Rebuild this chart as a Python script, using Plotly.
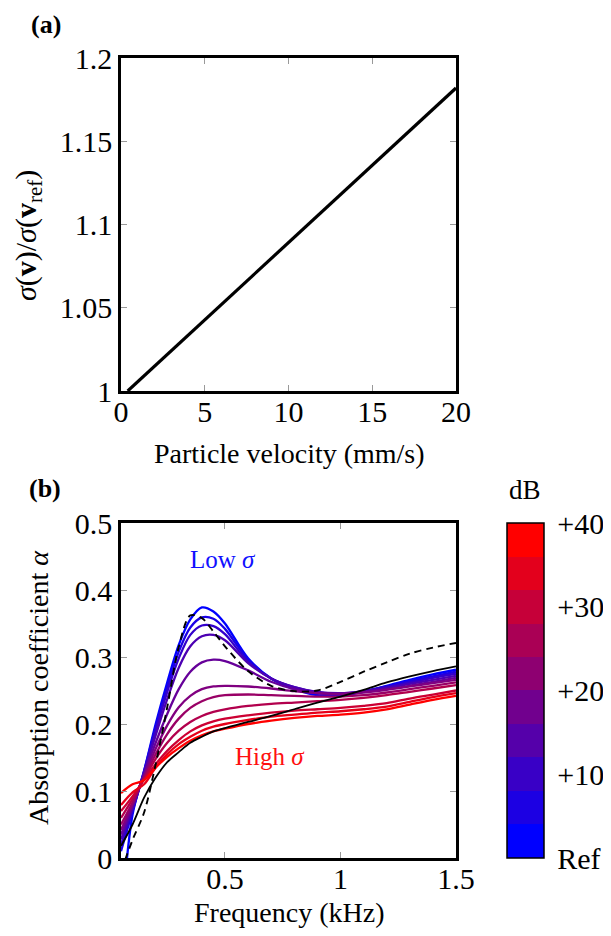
import plotly.graph_objects as go

# ---------------- data: panel (a) ----------------
VELOCITY_MM_S = [0.4, 20.0]
SIGMA_RATIO = [1.0, 1.182]

# ---------------- data: panel (b) ----------------
FREQ_KHZ = [0.05, 0.1, 0.15, 0.2, 0.25, 0.3, 0.35, 0.4, 0.45, 0.5,
            0.6, 0.7, 0.8, 0.9, 1.0, 1.1, 1.2, 1.3, 1.4, 1.5]

ALPHA_REF = [-0.10, 0.065, 0.130, 0.200, 0.262, 0.318, 0.356, 0.374, 0.368, 0.350,
             0.298, 0.268, 0.252, 0.243, 0.242, 0.248, 0.257, 0.266, 0.274, 0.281]
ALPHA_P04 = [0.010, 0.070, 0.130, 0.195, 0.255, 0.308, 0.344, 0.359, 0.357, 0.342,
             0.296, 0.268, 0.254, 0.246, 0.244, 0.249, 0.256, 0.264, 0.271, 0.278]
ALPHA_P08 = [0.020, 0.072, 0.128, 0.190, 0.248, 0.298, 0.333, 0.347, 0.346, 0.334,
             0.293, 0.268, 0.255, 0.247, 0.245, 0.249, 0.255, 0.262, 0.269, 0.275]
ALPHA_P12 = [0.028, 0.075, 0.127, 0.183, 0.237, 0.284, 0.316, 0.331, 0.333, 0.325,
             0.291, 0.268, 0.255, 0.248, 0.246, 0.249, 0.254, 0.260, 0.266, 0.272]
ALPHA_P16 = [0.035, 0.078, 0.125, 0.172, 0.215, 0.252, 0.278, 0.292, 0.296, 0.294,
             0.280, 0.263, 0.252, 0.246, 0.245, 0.248, 0.252, 0.257, 0.263, 0.269]
ALPHA_P20 = [0.042, 0.080, 0.122, 0.163, 0.198, 0.225, 0.242, 0.252, 0.256, 0.257,
             0.256, 0.253, 0.249, 0.246, 0.245, 0.247, 0.251, 0.256, 0.261, 0.266]
ALPHA_P24 = [0.050, 0.083, 0.120, 0.155, 0.185, 0.208, 0.224, 0.234, 0.240, 0.243,
             0.244, 0.243, 0.242, 0.241, 0.241, 0.243, 0.247, 0.252, 0.257, 0.262]
ALPHA_P28 = [0.060, 0.088, 0.118, 0.148, 0.172, 0.190, 0.203, 0.212, 0.218, 0.222,
             0.227, 0.230, 0.232, 0.234, 0.236, 0.239, 0.243, 0.248, 0.253, 0.258]
ALPHA_P32 = [0.070, 0.092, 0.117, 0.140, 0.160, 0.176, 0.189, 0.198, 0.204, 0.208,
             0.213, 0.217, 0.220, 0.222, 0.224, 0.227, 0.231, 0.238, 0.244, 0.250]
ALPHA_P36 = [0.079, 0.098, 0.110, 0.135, 0.155, 0.170, 0.181, 0.190, 0.196, 0.200,
             0.206, 0.211, 0.214, 0.217, 0.219, 0.222, 0.226, 0.233, 0.240, 0.246]
ALPHA_P40 = [0.097, 0.110, 0.116, 0.135, 0.151, 0.164, 0.175, 0.183, 0.189, 0.193,
             0.200, 0.205, 0.209, 0.212, 0.214, 0.217, 0.222, 0.229, 0.236, 0.242]

ALPHA_MODEL_SOLID = [0.018, 0.050, 0.090, 0.120, 0.143, 0.158, 0.172, 0.181, 0.189, 0.194,
                     0.203, 0.212, 0.222, 0.232, 0.241, 0.251, 0.262, 0.271, 0.279, 0.286]
ALPHA_MODEL_DASHED = [-0.020, 0.027, 0.068, 0.140, 0.225, 0.315, 0.362, 0.358, 0.338, 0.316,
                      0.279, 0.257, 0.249, 0.250, 0.263, 0.278, 0.292, 0.305, 0.314, 0.321]

DB_LEVELS = [0, 4, 8, 12, 16, 20, 24, 28, 32, 36, 40]
CBAR_TICK_DB = [0, 10, 20, 30, 40]
CBAR_TICK_TEXT = ["Ref", "+10", "+20", "+30", "+40"]

CURVES = [ALPHA_REF, ALPHA_P04, ALPHA_P08, ALPHA_P12, ALPHA_P16, ALPHA_P20,
          ALPHA_P24, ALPHA_P28, ALPHA_P32, ALPHA_P36, ALPHA_P40]

FONT = "Liberation Serif, DejaVu Serif, serif"
FS_TICK = 30
FS_TITLE = 28

# the page body adds an 8 px margin; lay the figure out in screen pixels minus that
OFF = 8
W, H = 611 - OFF, 936 - OFF

# screen-pixel layout of the panels
PX_L, PX_R = 121, 456
A_TOP, A_BOT = 58, 391
B_TOP, B_BOT = 523, 858
CB_L, CB_W = 507, 37


def fx(px):
    return (px - OFF) / W


def fy(py):
    return 1 - (py - OFF) / H


def blue_red(f):
    return "rgb(%d,0,%d)" % (round(255 * f), round(255 * (1 - f)))


fig = go.Figure()

# panel (a)
fig.add_trace(go.Scatter(x=VELOCITY_MM_S, y=SIGMA_RATIO, mode="lines",
                         line=dict(color="black", width=3.2),
                         xaxis="x", yaxis="y", showlegend=False))

# panel (b) colored curves
dmax = max(DB_LEVELS)
for lvl, curve in zip(DB_LEVELS, CURVES):
    fig.add_trace(go.Scatter(x=FREQ_KHZ, y=curve, mode="lines",
                             line=dict(color=blue_red(lvl / dmax), width=2.3,
                                       shape="spline", smoothing=0.9),
                             xaxis="x2", yaxis="y2", showlegend=False))

fig.add_trace(go.Scatter(x=FREQ_KHZ, y=ALPHA_MODEL_SOLID, mode="lines",
                         line=dict(color="black", width=1.8, shape="spline", smoothing=0.9),
                         xaxis="x2", yaxis="y2", showlegend=False))
fig.add_trace(go.Scatter(x=FREQ_KHZ, y=ALPHA_MODEL_DASHED, mode="lines",
                         line=dict(color="black", width=1.9, dash="7px,5px",
                                   shape="spline", smoothing=0.9),
                         xaxis="x2", yaxis="y2", showlegend=False))

# discrete colorbar
nb = len(DB_LEVELS) - 1
cscale = []
for i in range(nb):
    c = blue_red(i / (nb - 1))
    cscale.append([i / nb, c])
    cscale.append([(i + 1) / nb, c])

cb_y0 = fy(B_BOT)
cb_len = (B_BOT - B_TOP) / H
fig.add_trace(go.Scatter(
    x=[None], y=[None], mode="markers", xaxis="x2", yaxis="y2", showlegend=False,
    marker=dict(color=[0], cmin=0, cmax=dmax, colorscale=cscale, showscale=True,
                colorbar=dict(
                    x=fx(CB_L), xanchor="left", xpad=0,
                    y=cb_y0, yanchor="bottom", ypad=0,
                    len=cb_len, lenmode="fraction",
                    thickness=CB_W, thicknessmode="pixels",
                    outlinecolor="black", outlinewidth=1.5,
                    tickmode="array", tickvals=CBAR_TICK_DB, ticktext=CBAR_TICK_TEXT,
                    ticks="outside", ticklen=7, tickcolor="rgba(0,0,0,0)",
                    tickfont=dict(family=FONT, size=FS_TICK, color="black"),
                ))))

# gray inner tick marks on the colorbar
for v in CBAR_TICK_DB[1:-1]:
    yy = cb_y0 + cb_len * v / dmax
    for x0, x1 in ((CB_L, CB_L + 10), (CB_L + CB_W - 10, CB_L + CB_W)):
        fig.add_shape(type="line", xref="paper", yref="paper",
                      x0=fx(x0), x1=fx(x1), y0=yy, y1=yy,
                      line=dict(color="#888", width=1.3))

axis_common = dict(showline=True, linecolor="black", linewidth=2.5, mirror="allticks",
                   ticks="inside", ticklen=6, tickcolor="#999", tickwidth=1.2,
                   showgrid=False, zeroline=False, automargin=False,
                   tickfont=dict(family=FONT, size=FS_TICK, color="black"))

xa = [fx(PX_L), fx(PX_R)]
fig.update_layout(
    template="none",
    width=W, height=H, margin=dict(l=0, r=0, t=0, b=0, autoexpand=False),
    paper_bgcolor="white", plot_bgcolor="white", showlegend=False,
    font=dict(family=FONT, size=FS_TITLE, color="black"),
    xaxis=dict(domain=xa, range=[0, 20], tickvals=[0, 5, 10, 15, 20],
               anchor="y", ticklabelstandoff=-8, **axis_common),
    yaxis=dict(domain=[fy(A_BOT), fy(A_TOP)], range=[1, 1.2],
               tickvals=[1, 1.05, 1.1, 1.15, 1.2], ticktext=["1", "1.05", "1.1", "1.15", "1.2"],
               anchor="x", ticklabelstandoff=0, **axis_common),
    xaxis2=dict(domain=xa, range=[0.05, 1.5], tickvals=[0.5, 1, 1.5], ticktext=["0.5", "1", "1.5"],
                anchor="y2", ticklabelstandoff=-8, **axis_common),
    yaxis2=dict(domain=[fy(B_BOT), fy(B_TOP)], range=[0, 0.5],
                tickvals=[0, 0.1, 0.2, 0.3, 0.4, 0.5], ticktext=["0", "0.1", "0.2", "0.3", "0.4", "0.5"],
                anchor="x2", ticklabelstandoff=0, **axis_common),
)


def ann(text, px, py, size=FS_TITLE, color="black", angle=0):
    fig.add_annotation(text=text, x=fx(px), y=fy(py), xref="paper", yref="paper",
                       xanchor="center", yanchor="middle", showarrow=False, textangle=angle,
                       font=dict(family=FONT, size=size, color=color))


ann("<b>(a)</b>", 46, 24, size=26)
ann("<b>(b)</b>", 45, 489, size=26)
ann("<i>σ</i>(<b>v</b>)/<i>σ</i>(<b>v</b><sub>ref</sub>)", 28, 236, size=30, angle=-90)
ann("Absorption coefficient <i>α</i>", 38, 688, angle=-90)
ann("Particle velocity (mm/s)", 289, 453)
ann("Frequency (kHz)", 289, 912)
ann("dB", 525, 490, size=27)

fig.add_annotation(text="Low <i>σ</i>", x=0.49, y=0.446, xref="x2", yref="y2",
                   showarrow=False, font=dict(family=FONT, size=25, color="#1010ff"))
fig.add_annotation(text="High <i>σ</i>", x=0.695, y=0.151, xref="x2", yref="y2",
                   showarrow=False, font=dict(family=FONT, size=25, color="#ff1010"))

fig.write_html("out.html")
